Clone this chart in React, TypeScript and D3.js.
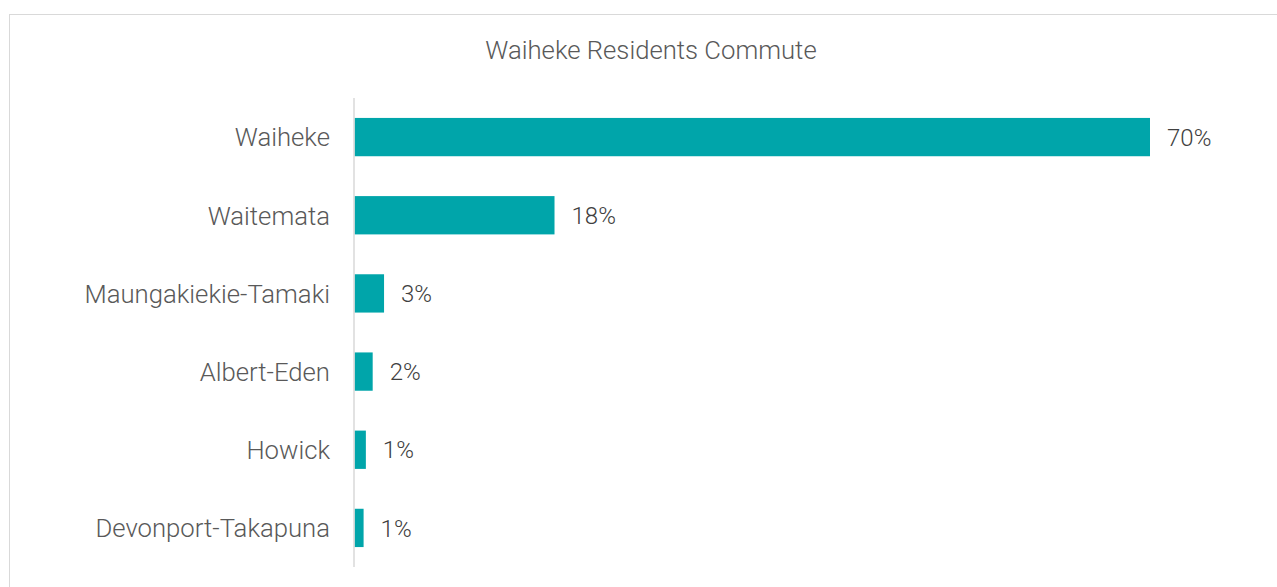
import React, { useEffect, useRef } from "react";
import * as d3 from "d3";

const categories = [
  "Waiheke",
  "Waitemata",
  "Maungakiekie-Tamaki",
  "Albert-Eden",
  "Howick",
  "Devonport-Takapuna",
];
const shares = [70, 17.6, 2.6, 1.6, 1.0, 0.8];
const chartTitle = "Waiheke Residents Commute";

const WIDTH = 1277;
const HEIGHT = 587;

const App: React.FC = () => {
  const svgRef = useRef<SVGSVGElement | null>(null);

  useEffect(() => {
    if (!svgRef.current) return;
    const svg = d3.select(svgRef.current);
    svg.selectAll("*").remove();

    const plot = { left: 354.5, right: 1150, top: 98, bottom: 567 };

    const x = d3
      .scaleLinear()
      .domain([0, 70])
      .range([plot.left, plot.right]);

    const y = d3
      .scaleBand<string>()
      .domain(categories)
      .range([plot.top, plot.bottom])
      .paddingInner(0.51)
      .paddingOuter(0.255);

    // chart border
    svg
      .append("rect")
      .attr("x", 9.5)
      .attr("y", 14.5)
      .attr("width", WIDTH + 20)
      .attr("height", HEIGHT + 20)
      .attr("fill", "#fff")
      .attr("stroke", "#d9d9d9")
      .attr("stroke-width", 1);

    svg
      .append("text")
      .attr("x", 651)
      .attr("y", 59)
      .attr("text-anchor", "middle")
      .attr("font-family", "Roboto, sans-serif")
      .attr("font-size", 25.7)
      .attr("font-weight", 300)
      .attr("fill", "#595959")
      .text(chartTitle);

    const rows = categories.map((c, i) => ({ name: c, value: shares[i] }));

    svg
      .append("g")
      .selectAll("rect")
      .data(rows)
      .enter()
      .append("rect")
      .attr("x", x(0))
      .attr("y", (d) => y(d.name)!)
      .attr("width", (d) => x(d.value) - x(0))
      .attr("height", y.bandwidth())
      .attr("fill", "#00a5aa");

    // category axis
    svg
      .append("line")
      .attr("x1", plot.left - 0.5)
      .attr("x2", plot.left - 0.5)
      .attr("y1", plot.top)
      .attr("y2", plot.bottom)
      .attr("stroke", "#d9d9d9")
      .attr("stroke-width", 1.5);

    svg
      .append("g")
      .selectAll("text")
      .data(rows)
      .enter()
      .append("text")
      .attr("x", 330)
      .attr("y", (d) => y(d.name)! + y.bandwidth() / 2)
      .attr("dy", "0.36em")
      .attr("text-anchor", "end")
      .attr("font-family", "Roboto, sans-serif")
      .attr("font-size", 25.7)
      .attr("font-weight", 300)
      .attr("fill", "#595959")
      .text((d) => d.name);

    // value labels
    svg
      .append("g")
      .selectAll("text")
      .data(rows)
      .enter()
      .append("text")
      .attr("x", (d) => x(d.value) + 17)
      .attr("y", (d) => y(d.name)! + y.bandwidth() / 2)
      .attr("dy", "0.36em")
      .attr("font-family", "Roboto, sans-serif")
      .attr("font-size", 24)
      .attr("font-weight", 300)
      .attr("fill", "#404040")
      .text((d) => `${Math.round(d.value)}%`);
  }, []);

  return (
    <div style={{ position: "absolute", left: 0, top: 0 }}>
      <svg ref={svgRef} width={WIDTH} height={HEIGHT} style={{ display: "block" }} />
    </div>
  );
};

export default App;
